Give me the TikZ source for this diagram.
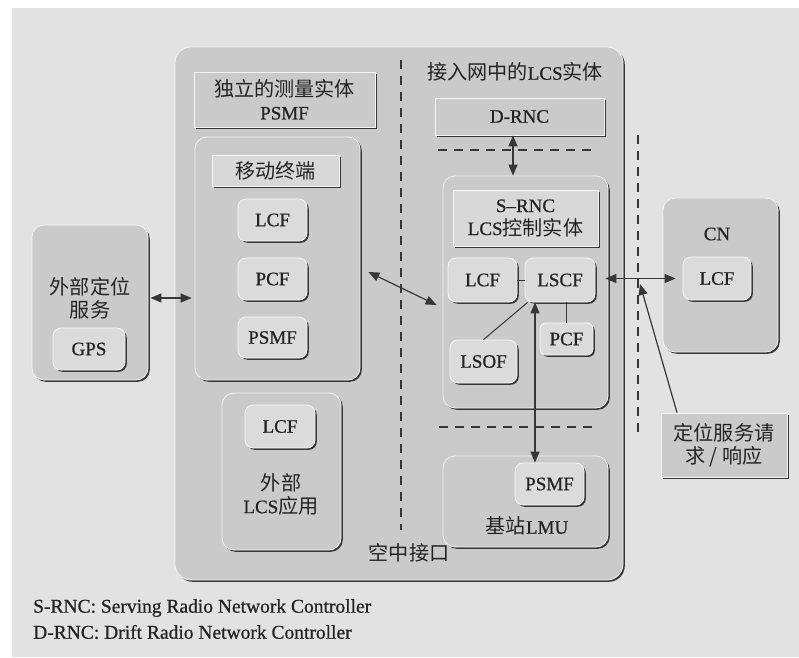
\documentclass[tikz,border=0pt]{standalone}
\usepackage{fontspec}
\setmainfont[FakeBold=0.7]{Liberation Serif}
\newfontfamily\cjk[Scale=1.06]{Noto Sans CJK SC}
\usetikzlibrary{shadows,arrows.meta,calc}
\definecolor{bgc}{RGB}{226,226,226}
\definecolor{boxc}{RGB}{202,202,202}
\definecolor{fnc}{RGB}{219,219,219}
\definecolor{lblc}{RGB}{216,216,216}
\definecolor{txt}{RGB}{35,35,35}
\definecolor{edge}{RGB}{55,55,55}
\newcommand\zh[1]{{\cjk #1}}
\tikzset{
  shd/.style={drop shadow={shadow xshift=1.8pt,shadow yshift=-1.8pt,fill=edge,opacity=1}},
  basefont/.style={text=txt,font=\fontsize{19}{23}\selectfont,align=center,inner sep=0pt},
  container/.style={draw=white!80!boxc,line width=0.8pt,fill=boxc,rounded corners=12pt,shd,basefont},
  mainbox/.style={container,rounded corners=16pt},
  fbox/.style={draw=white!80!fnc,line width=0.8pt,fill=fnc,rounded corners=8pt,shd,basefont},
  lbox/.style={draw=white!80!lblc,line width=0.8pt,fill=lblc,shd,basefont},
  dbox/.style={draw=white!80!boxc,line width=0.8pt,fill=boxc,shd,basefont},
  plain/.style={basefont},
  dline/.style={draw=edge,line width=1.2pt,dash pattern=on 9pt off 7pt},
  arr/.style={draw=edge,line width=1.2pt,{Triangle[length=11pt,width=9pt]}-{Triangle[length=11pt,width=9pt]}},
  sarr/.style={draw=edge,line width=1.2pt,-{Triangle[length=11pt,width=9pt]}},
  link/.style={draw=edge,line width=1pt},
  fn/.style={text=txt,font=\fontsize{19.5}{23}\selectfont,anchor=west,inner sep=0pt},
}
\begin{document}
\begin{tikzpicture}[x=1pt,y=-1pt]
\useasboundingbox (0,0) rectangle (799,657);
\fill[white] (0,0) rectangle (799,657);
\fill[bgc] (12,8) rectangle (799,657);

% main box
\node[mainbox,minimum width=448pt,minimum height=533pt] (main) at (399,313.5) {};

% external positioning service
\node[container,minimum width=116pt,minimum height=155pt] (ext) at (90,302.5) {};
\node[plain] (extt) at (90,298) {\zh{外部定位}\\\zh{服务}};
\node[fbox,minimum width=72pt,minimum height=42pt] (gps) at (89,349) {GPS};

% left part of main box
\node[dbox,minimum width=181pt,minimum height=55pt] (psmfrect) at (284.5,99.5) {\zh{独立的测量实体}\\PSMF};
\node[container,minimum width=165pt,minimum height=243pt] (mt) at (277.5,258.5) {};
\node[lbox,minimum width=127pt,minimum height=31pt] (mtl) at (275.5,170.5) {\zh{移动终端}};
\node[fbox,minimum width=69pt,minimum height=42pt] (lcf1) at (272.5,220) {LCF};
\node[fbox,minimum width=69pt,minimum height=42pt] (pcf1) at (272.5,279) {PCF};
\node[fbox,minimum width=69pt,minimum height=41pt] (psmf1) at (272.5,337.5) {PSMF};

\node[container,minimum width=119pt,minimum height=157pt] (app) at (281.5,471.5) {};
\node[fbox,minimum width=70pt,minimum height=43pt] (lcfa) at (280,426.5) {LCF};
\node[plain] (appt) at (281,494) {\zh{外部}\\LCS\zh{应用}};

\node[plain] (air) at (409,553) {\zh{空中接口}};

% access network part
\node[plain] (ant) at (515,72) {\zh{接入网中的}LCS\zh{实体}};
\node[dbox,minimum width=169pt,minimum height=37pt] (drnc) at (519.5,116.5) {D-RNC};

\node[container,minimum width=165pt,minimum height=232pt] (srnc) at (525.5,292) {};
\node[lbox,minimum width=145pt,minimum height=56pt] (srncl) at (525.5,218) {S–RNC\\LCS\zh{控制实体}};
\node[fbox,minimum width=69pt,minimum height=44pt] (lcf2) at (482.5,280) {LCF};
\node[fbox,minimum width=70pt,minimum height=44pt] (lscf) at (560,280) {LSCF};
\node[fbox,minimum width=53pt,minimum height=32pt,rounded corners=6pt] (pcf2) at (566.5,339) {PCF};
\node[fbox,minimum width=67pt,minimum height=43pt] (lsof) at (483.5,361.5) {LSOF};

\node[container,minimum width=165pt,minimum height=91pt] (lmu) at (525.5,501.5) {};
\node[fbox,minimum width=69pt,minimum height=42pt] (psmf3) at (549.5,484) {PSMF};
\node[plain] (lmut) at (527,526) {\zh{基站}LMU};

% core network
\node[container,minimum width=115pt,minimum height=154pt] (cn) at (720.5,275) {};
\node[plain] (cnt) at (717,234) {CN};
\node[fbox,minimum width=68pt,minimum height=43pt] (cnlcf) at (717,278.5) {LCF};

\node[dbox,minimum width=126pt,minimum height=64pt] (req) at (724,445) {\zh{定位服务请}\\\zh{求 / 响应}};

% dashed lines
\draw[dline] (401,60) -- (401,530);
\draw[dline] (438,150) -- (597,150);
\draw[dline] (439,427) -- (597,427);
\draw[dline] (638,135) -- (638,437);

% connectors
\draw[arr] ([xshift=2pt]ext.east |- 0,298) -- ([xshift=-3pt]mt.west |- 0,298);
\draw[arr] ([xshift=8pt,yshift=-13.5pt]mt.east) -- ([xshift=-6pt,yshift=-13pt]srnc.west);
\draw[arr] ([xshift=-6.5pt]drnc.south) -- ([xshift=-6.5pt]drnc.south |- srnc.north);
\draw[link] (lcf2.east) -- (lscf.west);
\draw[link] (pcf2.north) -- (pcf2.north |- lscf.south);
\draw[link] (lsof.north) -- ([xshift=3pt]lscf.south west);
\draw[arr] ([xshift=-25pt]lscf.south) -- ([xshift=-25pt]lscf.south |- psmf3.north);
\draw[arr] ([xshift=-3pt]srnc.east |- cnlcf.west) -- ([xshift=-7pt]cnlcf.west);
\coordinate (reqtip) at (640,284);
\draw[sarr] ([xshift=-47pt]req.north) -- (reqtip);

% footnotes
\node[fn] (fn1) at (33,608) {S-RNC: Serving Radio Network Controller};
\node[fn] (fn2) at (33,632) {D-RNC: Drift Radio Network Controller};
\end{tikzpicture}
\end{document}
